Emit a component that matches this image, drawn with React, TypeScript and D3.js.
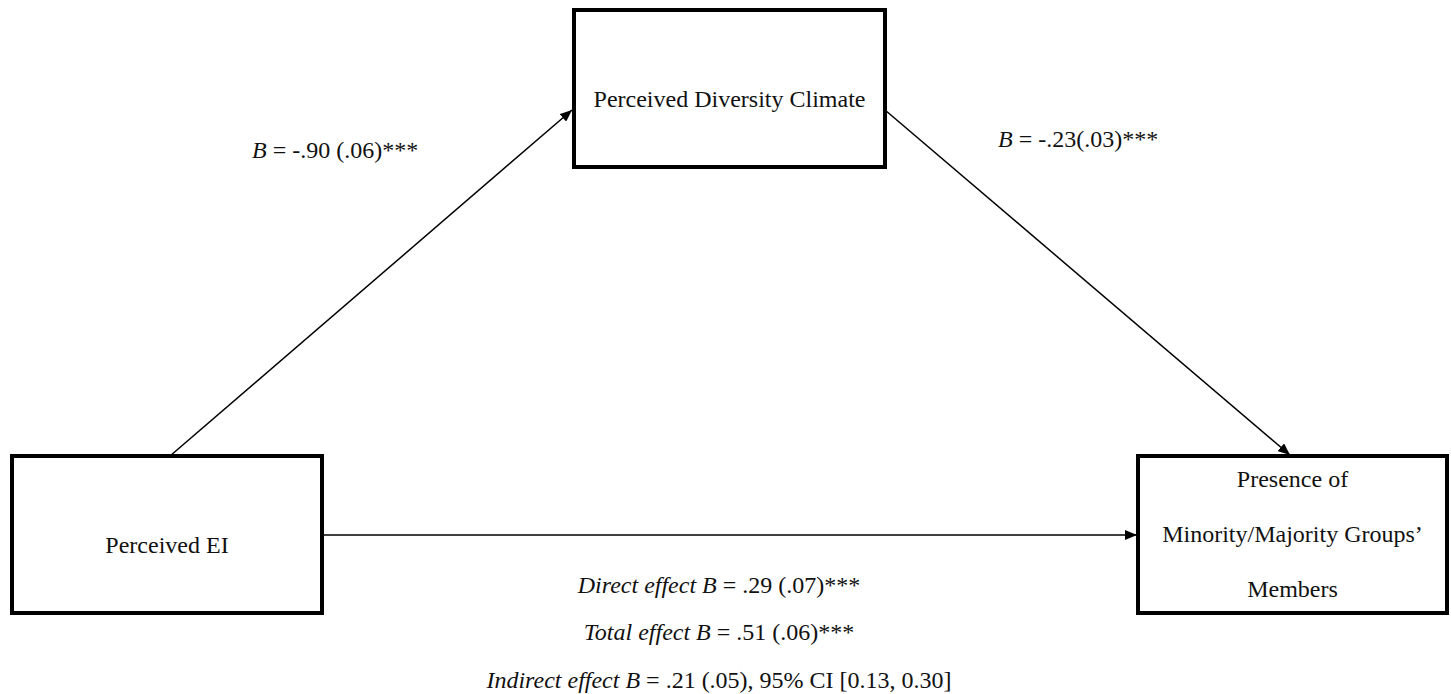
import React, { useEffect, useRef } from 'react';
import * as d3 from 'd3';

// node labels (one entry per line)
const predictorLines = ['Perceived EI'];
const mediatorLines = ['Perceived Diversity Climate'];
const outcomeLines = ['Presence of', 'Minority/Majority Groups\u2019', 'Members'];

// path coefficients
const pathA = { b: '-.90', se: '(.06)', sig: '***', gap: ' ' };
const pathB = { b: '-.23', se: '(.03)', sig: '***', gap: '' };

// effects listed under the diagram
const effectLabels = ['Direct effect', 'Total effect', 'Indirect effect'];
const effectValues = ['.29 (.07)***', '.51 (.06)***', '.21 (.05), 95% CI [0.13, 0.30]'];

const W = 1451;
const H = 694;
const FONT = '"Liberation Serif", "Times New Roman", serif';

const App: React.FC = () => {
  const svgRef = useRef<SVGSVGElement>(null);

  useEffect(() => {
    const svg = d3.select(svgRef.current);
    svg.selectAll('*').remove();
    svg.attr('width', W).attr('height', H).attr('viewBox', `0 0 ${W} ${H}`);

    svg.append('rect').attr('width', W).attr('height', H).attr('fill', '#fff');

    // arrow marker
    svg.append('defs')
      .append('marker')
      .attr('id', 'arrow')
      .attr('viewBox', '0 0 12 10')
      .attr('refX', 12)
      .attr('refY', 5)
      .attr('markerWidth', 12)
      .attr('markerHeight', 10)
      .attr('markerUnits', 'userSpaceOnUse')
      .attr('orient', 'auto')
      .append('path')
      .attr('d', 'M0,0 L12,5 L0,10 Z')
      .attr('fill', '#000');

    const boxes = [
      { x: 12, y: 456, w: 310, h: 157, lines: predictorLines, baselines: [553] },
      { x: 574, y: 10, w: 311, h: 157, lines: mediatorLines, baselines: [107] },
      { x: 1138, y: 456, w: 309, h: 157, lines: outcomeLines, baselines: [487, 542, 597] }
    ];

    // paths
    const line = d3.line<[number, number]>();
    const paths: [number, number][][] = [
      [[170, 456], [572, 110]],
      [[885, 110], [1290, 455]],
      [[322, 535], [1137, 535]]
    ];
    svg.selectAll('.path')
      .data(paths)
      .enter()
      .append('path')
      .attr('class', 'path')
      .attr('d', d => line(d))
      .attr('fill', 'none')
      .attr('stroke', '#000')
      .attr('stroke-width', 1.5)
      .attr('marker-end', 'url(#arrow)');

    // boxes
    const g = svg.selectAll('.box')
      .data(boxes)
      .enter()
      .append('g')
      .attr('class', 'box');

    g.append('rect')
      .attr('x', d => d.x)
      .attr('y', d => d.y)
      .attr('width', d => d.w)
      .attr('height', d => d.h)
      .attr('fill', '#fff')
      .attr('stroke', '#000')
      .attr('stroke-width', 4);

    g.each(function(d) {
      d.lines.forEach((t, i) => {
        d3.select(this).append('text')
          .attr('x', d.x + d.w / 2)
          .attr('y', d.baselines[i])
          .attr('text-anchor', 'middle')
          .attr('font-family', FONT)
          .attr('font-size', 24)
          .attr('fill', '#111')
          .text(t);
      });
    });

    // coefficient labels
    const coef = (x: number, y: number, p: typeof pathA) => {
      const t = svg.append('text')
        .attr('x', x)
        .attr('y', y)
        .attr('font-family', FONT)
        .attr('font-size', 24)
        .attr('fill', '#111');
      t.append('tspan').attr('font-style', 'italic').text('B');
      t.append('tspan').text(` = ${p.b}${p.gap}${p.se}${p.sig}`);
    };
    coef(252, 158, pathA);
    coef(998, 147, pathB);

    // effects
    const effY = [593, 640, 688];
    effectLabels.forEach((lab, i) => {
      const t = svg.append('text')
        .attr('x', 719)
        .attr('y', effY[i])
        .attr('text-anchor', 'middle')
        .attr('font-family', FONT)
        .attr('font-size', 24)
        .attr('fill', '#111');
      t.append('tspan').attr('font-style', 'italic').text(`${lab} B`);
      t.append('tspan').text(` = ${effectValues[i]}`);
    });
  }, []);

  return (
    <svg ref={svgRef} style={{ position: 'absolute', left: 0, top: 0, display: 'block' }} />
  );
};

export default App;
